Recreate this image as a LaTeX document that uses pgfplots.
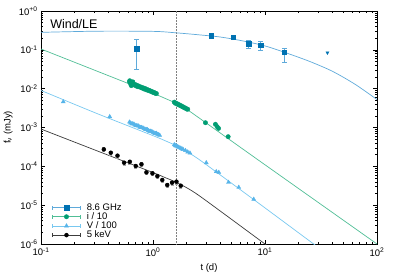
\documentclass[border=0pt]{standalone}
\usepackage{fontspec}
\setmainfont{Liberation Sans}
\usepackage{pgfplots}
\pgfplotsset{compat=1.18}
\definecolor{rdark}{RGB}{0,114,178}
\definecolor{rlight}{RGB}{95,170,218}
\definecolor{igreen}{RGB}{0,158,115}
\definecolor{iline}{RGB}{80,190,150}
\definecolor{vblue}{RGB}{86,180,233}
\definecolor{vline}{RGB}{120,200,240}
\definecolor{xline}{RGB}{60,60,60}
\pgfplotsset{
 ebleg/.style={legend image code/.code={
   \draw[##1, mark=none, draw=#1, line width=0.6pt] (0pt,0pt) -- (28pt,0pt) (0pt,-2pt) -- (0pt,2pt) (28pt,-2pt) -- (28pt,2pt);
   \draw[##1] plot coordinates {(14pt,0pt)};
 }}
}
\begin{document}
\begin{tikzpicture}
\begin{axis}[
 at={(0,0)}, anchor=south west,
 scale only axis, width=336pt, height=233pt,
 xmode=log, ymode=log, xmin=0.1, xmax=100, ymin=1e-6, ymax=1,
 xtick={0.1,1,10,100},
 xticklabels={10\textsuperscript{-1},10\textsuperscript{0},10\textsuperscript{1},10\textsuperscript{2}},
 ytick={1e-6,1e-5,1e-4,1e-3,1e-2,1e-1,1},
 yticklabels={10\textsuperscript{-6},10\textsuperscript{-5},10\textsuperscript{-4},10\textsuperscript{-3},10\textsuperscript{-2},10\textsuperscript{-1},10\textsuperscript{+0}},
 ticklabel style={font=\fontsize{9.5}{11}\selectfont},
 major tick length=4pt, minor tick length=2pt,
 tick style={black, line width=0.5pt},
 axis line style={line width=0.8pt},
 xlabel={t (d)}, ylabel={f\textsubscript{ν} (mJy)},
 label style={font=\fontsize{9.5}{11}\selectfont},
 xlabel style={at={(axis description cs:0.5,-0.103)}, anchor=center},
 ylabel style={at={(axis description cs:-0.098,0.5)}, anchor=center},
 legend style={at={(axis description cs:0.0327,0.015)}, anchor=south west, draw=none, fill=none,
   font=\fontsize{9.5}{10}\selectfont, inner sep=0pt, row sep=-1.2pt, column sep=0pt, nodes={inner sep=1pt}},
 legend cell align=left,
]
% jet break marker
\addplot[forget plot, densely dotted, gray, line width=0.5pt] coordinates {(1.6,1e-6) (1.6,1)};
% model curves
\addplot[forget plot, rlight, line width=0.7pt, smooth] coordinates {
(0.1,0.282) (0.316,0.302) (1,0.299) (1.585,0.275) (2.512,0.245) (3.981,0.214) (6.31,0.170) (10,0.126) (15.85,0.0813) (25.12,0.0501) (39.81,0.0282) (63.1,0.0132) (100,0.00525)};
\addplot[forget plot, iline, line width=0.7pt, smooth] coordinates {
(0.1,0.105) (0.316,0.0283) (1,0.0076) (1.259,0.00575) (1.585,0.00427) (1.995,0.00295) (2.512,0.00186) (3.981,7.24e-4) (10,1.096e-4) (100,1e-6)};
\addplot[forget plot, vline, line width=0.7pt, smooth] coordinates {
(0.1,9.0e-3) (0.316,2.29e-3) (1,6.17e-4) (1.259,4.68e-4) (1.585,3.47e-4) (1.995,2.40e-4) (2.512,1.585e-4) (3.981,6.03e-5) (10,8.51e-6) (27.2,1e-6) (31.6,7.3e-7)};
\addplot[forget plot, xline, line width=0.7pt, smooth] coordinates {
(0.1,9.12e-4) (0.316,2.51e-4) (1,6.92e-5) (1.259,5.25e-5) (1.585,3.98e-5) (1.995,2.82e-5) (2.512,1.86e-5) (3.981,7.08e-6) (10,1e-6) (11.2,7.9e-7)};
% 8.6 GHz
\addplot[ebleg=rlight, only marks, mark=square*, mark size=2.3pt, color=rdark,
  error bars/.cd, y dir=both, y explicit, error bar style={rlight, line width=0.6pt}, error mark options={rlight, mark size=2.5pt, rotate=90}]
 table[x=t, y=f, y error plus=ep, y error minus=em] {
t f ep em
0.716 0.107 0.080 0.076
3.31 0.231 0.012 0.012
5.2 0.210 0.012 0.012
7.16 0.144 0.028 0.034
9.16 0.133 0.029 0.038
14.9 0.0863 0.027 0.037
};
\addlegendentry{\hspace{5pt}8.6 GHz}
% i / 10
\addplot[ebleg=iline, only marks, mark=*, mark size=2.2pt, color=igreen] coordinates {
(0.617,0.0150) (0.62,0.0160) (0.631,0.0132) (0.64,0.0120) (0.646,0.0140) (0.66,0.0150) (0.661,0.0127) (0.676,0.0132) (0.692,0.0121) (0.708,0.0125) (0.724,0.0113) (0.741,0.0118) (0.759,0.0110) (0.776,0.0111) (0.794,0.0104) (0.813,0.0106) (0.832,0.0098) (0.851,0.0101) (0.871,0.0093) (0.891,0.0095) (0.912,0.0089) (0.933,0.0090) (0.955,0.0085) (0.977,0.0085) (1.000,0.0080) (1.023,0.0080) (1.047,0.0076) (1.072,0.0075)
(1.549,0.00450) (1.585,0.00420) (1.622,0.00420) (1.660,0.00395) (1.698,0.00390) (1.738,0.00370) (1.778,0.00365) (1.820,0.00345) (1.862,0.00340) (1.905,0.00320) (1.950,0.00318) (1.995,0.00300) (2.042,0.00295)
(2.94,1.33e-3) (3.61,1.21e-3) (3.74,1.05e-3) (3.85,9.5e-4) (4.69,5.8e-4)};
\addlegendentry{\hspace{5pt}i / 10}
% V / 100
\addplot[ebleg=vline, only marks, mark=triangle*, mark size=2.3pt, color=vblue] coordinates {
(0.158,4.6e-3) (0.411,1.9e-3)
(0.617,1.38e-3) (0.63,1.30e-3) (0.646,1.24e-3) (0.66,1.25e-3) (0.676,1.22e-3) (0.69,1.15e-3) (0.708,1.11e-3) (0.72,1.12e-3) (0.741,1.09e-3) (0.76,1.03e-3) (0.776,1.00e-3) (0.79,1.00e-3) (0.813,9.8e-4) (0.83,9.4e-4) (0.851,9.0e-4) (0.87,8.9e-4) (0.891,8.8e-4) (0.91,8.3e-4) (0.933,8.0e-4) (0.95,8.0e-4) (0.977,7.9e-4) (1.00,7.5e-4) (1.023,7.2e-4) (1.05,7.0e-4) (1.072,7.1e-4) (1.10,6.7e-4) (1.122,6.5e-4) (1.148,6.3e-4)
(1.549,3.6e-4) (1.585,3.4e-4) (1.622,3.35e-4) (1.66,3.2e-4) (1.698,3.1e-4) (1.74,3.0e-4) (1.778,2.9e-4) (1.82,2.8e-4) (1.862,2.7e-4) (1.95,2.55e-4) (2.042,2.35e-4) (2.138,2.2e-4)
(2.99,1.24e-4) (3.67,7.3e-5) (3.87,7.0e-5) (4.72,3.87e-5) (5.83,2.88e-5) (7.93,1.42e-5)};
\addlegendentry{\hspace{5pt}V / 100}
% 5 keV
\addplot[ebleg=xline, only marks, mark=*, mark size=2pt, color=black,
  error bars/.cd, y dir=both, y explicit relative, error bar style={gray!70, line width=0.6pt}, error mark options={gray!70, mark size=1.5pt, rotate=90}]
 table[x=t, y=f, y error=e] {
t f e
0.364 2.74e-4 0.12
0.420 2.24e-4 0.12
0.482 1.88e-4 0.12
0.552 1.24e-4 0.12
0.621 1.31e-4 0.12
0.702 1.02e-4 0.12
0.789 1.13e-4 0.12
0.874 7.0e-5 0.12
0.989 6.6e-5 0.12
1.094 5.6e-5 0.12
1.21 4.45e-5 0.12
1.34 3.30e-5 0.12
1.48 3.79e-5 0.12
1.62 4.02e-5 0.12
1.77 3.17e-5 0.12
};
\addlegendentry{\hspace{5pt}5 keV}
% radio upper limit
\addplot[forget plot, only marks, mark=triangle*, mark size=1.8pt, mark options={rotate=180}, color=rdark] coordinates {(36.1,0.0844)};
\node[anchor=west, font=\fontsize{12.5}{14}\selectfont, inner sep=0pt] at (axis description cs:0.027,0.944) {Wind/LE};
\end{axis}
\pgfresetboundingbox
\path[use as bounding box] (-41pt,-31pt) rectangle (354pt,244pt);
\end{tikzpicture}
\end{document}
